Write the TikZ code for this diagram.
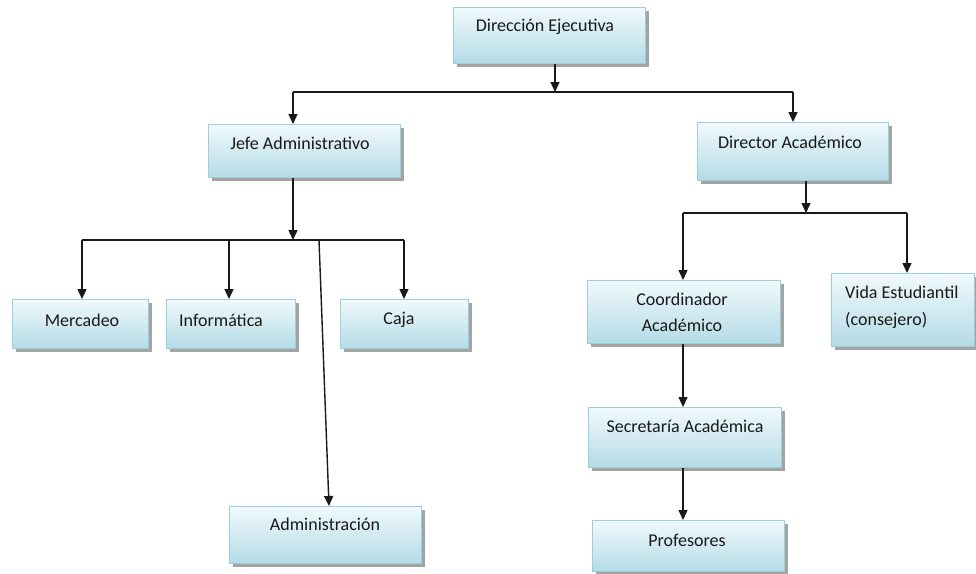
\documentclass[tikz,border=0pt]{standalone}
\usepackage{fontspec}
\setmainfont{Carlito}
\usetikzlibrary{arrows.meta,shadows}
\definecolor{boxtop}{HTML}{F0F9FC}
\definecolor{boxbot}{HTML}{B4DBE6}
\definecolor{boxline}{HTML}{9CCFDE}
\tikzset{
  orgbox/.style={draw=boxline, line width=1.3pt, top color=boxtop, bottom color=boxbot,
    inner sep=0pt, anchor=north west,
    drop shadow={shadow xshift=3pt, shadow yshift=-3pt, fill=black!45, opacity=0.8}},
  lbl/.style={font=\fontsize{18}{26}\selectfont, inner sep=0pt, text=black!90},
  lnk/.style={line width=1.4pt, draw=black!90},
  arr/.style={lnk, -{Triangle[length=10pt,width=9pt]}}
}
\begin{document}
\begin{tikzpicture}[x=1pt,y=-1pt]
\useasboundingbox (0,0) rectangle (976,573);
\fill[white] (0,0) rectangle (976,573);
% boxes
\node[orgbox, minimum width=192pt, minimum height=56pt] (de) at (453,7) {};
\node[orgbox, minimum width=192pt, minimum height=53pt] (ja) at (208,124) {};
\node[orgbox, minimum width=191pt, minimum height=58pt] (da) at (697,122) {};
\node[orgbox, minimum width=136pt, minimum height=49pt] (me) at (12,299) {};
\node[orgbox, minimum width=129pt, minimum height=49pt] (inf) at (166,299) {};
\node[orgbox, minimum width=128pt, minimum height=49pt] (ca) at (340,299) {};
\node[orgbox, minimum width=192pt, minimum height=57pt] (ad) at (229,506) {};
\node[orgbox, minimum width=193pt, minimum height=63pt] (co) at (587,280) {};
\node[orgbox, minimum width=143pt, minimum height=73pt] (ve) at (831,273) {};
\node[orgbox, minimum width=193pt, minimum height=60pt] (se) at (588,407) {};
\node[orgbox, minimum width=192pt, minimum height=51pt] (pr) at (592,520) {};
% labels
\node[lbl] (deT) at (545,27) {Dirección Ejecutiva};
\node[lbl] (jaT) at (300,143) {Jefe Administrativo};
\node[lbl] (daT) at (790,142) {Director Académico};
\node[lbl] (meT) at (82,320) {Mercadeo};
\node[lbl] (inT) at (221,320) {Informática};
\node[lbl] (caT) at (399,320) {Caja};
\node[lbl] (adT) at (325,524) {Administración};
\node[lbl] (coT1) at (682,299) {Coordinador};
\node[lbl] (coT2) at (682,325) {Académico};
\node[lbl, anchor=west] (veT1) at (845,292) {Vida Estudiantil};
\node[lbl, anchor=west] (veT2) at (845,320) {(consejero)};
\node[lbl] (seT) at (685,426) {Secretaría Académica};
\node[lbl] (prT) at (687,540) {Profesores};
% junction coordinates
\coordinate (j1) at (555,92);
\coordinate (h1L) at (293,92);
\coordinate (h1R) at (793,92);
\coordinate (j2) at (293,240);
\coordinate (h2L) at (82,240);
\coordinate (h2M) at (229,240);
\coordinate (h2A) at (319,240);
\coordinate (h2R) at (404,240);
\coordinate (j3) at (806,213);
\coordinate (h3L) at (683,213);
\coordinate (h3R) at (907,213);
\coordinate (adIn) at (329,506);
\coordinate (coOut) at (683,343);
\coordinate (seOut) at (683,467);
% connectors
\draw[arr] (de.south -| j1) -- (j1);
\draw[lnk] (h1L) -- (h1R);
\draw[arr] (h1L) -- (ja.north -| h1L);
\draw[arr] (h1R) -- (da.north -| h1R);
\draw[arr] (ja.south -| j2) -- (j2);
\draw[lnk] (h2L) -- (h2R);
\draw[arr] (h2L) -- (me.north -| h2L);
\draw[arr] (h2M) -- (inf.north -| h2M);
\draw[arr] (h2R) -- (ca.north -| h2R);
\draw[arr] (h2A) -- (adIn);
\draw[arr] (da.south -| j3) -- (j3);
\draw[lnk] (h3L) -- (h3R);
\draw[arr] (h3L) -- (co.north -| h3L);
\draw[arr] (h3R) -- (ve.north -| h3R);
\draw[arr] (co.south -| coOut) -- (se.north -| coOut);
\draw[arr] (se.south -| seOut) -- (pr.north -| seOut);
\end{tikzpicture}
\end{document}
